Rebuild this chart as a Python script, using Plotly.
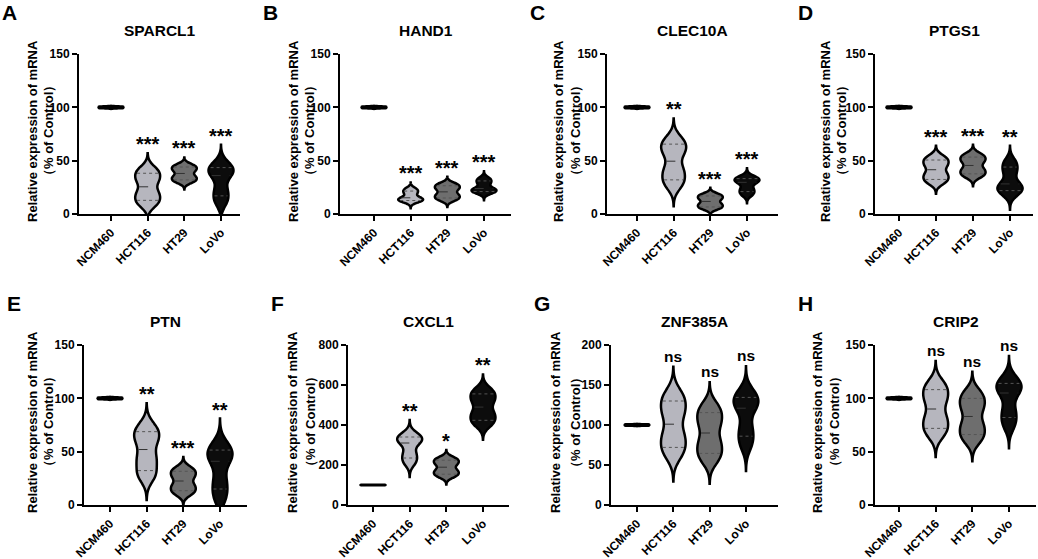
import numpy as np
import plotly.graph_objects as go

groups = ["NCM460", "HCT116", "HT29", "LoVo"]
genes = ["SPARCL1", "HAND1", "CLEC10A", "PTGS1", "PTN", "CXCL1", "ZNF385A", "CRIP2"]
letters = ["A", "B", "C", "D", "E", "F", "G", "H"]

# relative expression (% of control)
ncm460 = [99.3, 100, 100.7]
sparcl1 = [ncm460, [10.6, 19.4, 31.6, 40.4], [30.9, 35.1, 40.9, 45.1], [12, 22, 36, 41, 46]]
hand1 = [ncm460, [11.8, 13.5, 15.2, 19.8, 23.2], [14, 18, 23.5, 27.5], [20.1, 22, 23.9, 29.1, 32.9]]
clec10a = [ncm460, [29, 41, 58, 68], [5.7, 9.3, 14.2, 17.8], [18.7, 23.3, 29.7, 32, 34.3]]
ptgs1 = [ncm460, [30.8, 37.2, 45.8, 52.2], [36.3, 41.7, 49.3, 54.7], [19.8, 24, 28.2, 39.8, 48.2]]
ptn = [ncm460, [28.5, 43.5, 60.5, 71.5], [11.8, 18.2, 26.8, 33.2], [8, 22, 41, 48, 55]]
cxcl1 = [ncm460, [215, 255, 310, 330, 350], [148, 172, 206, 230], [412, 458, 521, 567]]
znf385a = [ncm460, [67, 87, 115, 135], [60, 78, 102, 120], [77, 95, 121, 130, 139]]
crip2 = [ncm460, [68.7, 81.3, 98.7, 111.3], [63.1, 74.9, 91.1, 102.9], [76, 88, 105, 111, 117]]
all_data = [sparcl1, hand1, clec10a, ptgs1, ptn, cxcl1, znf385a, crip2]

y_max = [150, 150, 150, 150, 150, 800, 200, 150]
y_step = [50, 50, 50, 50, 50, 200, 50, 50]
signif = [
    ["", "***", "***", "***"],
    ["", "***", "***", "***"],
    ["", "**", "***", "***"],
    ["", "***", "***", "**"],
    ["", "**", "***", "**"],
    ["", "**", "*", "**"],
    ["", "ns", "ns", "ns"],
    ["", "ns", "ns", "ns"],
]

fills = ["#000000", "#b6b6be", "#6e6e6e", "#0c0c0c"]
W, H = 1038, 559
FONT = "Liberation Sans, Arial, sans-serif"
VW = 0.68          # violin width in category units
BW_FRAC = 0.185    # kde bandwidth as fraction of the data range
TAIL = 3.0         # span beyond data, in bandwidths

# pixel layout: y-axis x, first category x, last category x, axis end x
panel_px = [
    (79, 111, 221, 240), (340, 374, 484, 511), (607, 637, 747, 778), (875, 899, 1010, 1033),
    (84, 110, 220, 247), (348, 373, 483, 509), (611, 637, 746, 778), (875, 899, 1009, 1036),
]
rows_px = [(54, 214), (345, 505)]
# y title lines: distance of each line's centre left of the y axis
ytitle_off = [(47, 31), (47, 31), (49, 32), (50, 34), (51, 35), (55, 37), (55, 35), (57, 40)]

fig = go.Figure()
annotations = []


def dens(vals, bw, t):
    t = np.atleast_1d(t)
    return np.exp(-0.5 * ((t[:, None] - np.asarray(vals)[None, :]) / bw) ** 2).sum(axis=1)


for p, data in enumerate(all_data):
    n = p + 1
    xa, ya = f"x{n}", f"y{n}"
    ax0, c0, c3, end = panel_px[p]
    top, bot = rows_px[p // 4]
    s = (c3 - c0) / 3
    xr = [-(c0 - ax0) / s, 3 + (end - c3) / s]

    for g, vals in enumerate(data):
        vals = np.asarray(vals, dtype=float)
        bw = BW_FRAC * (vals.max() - vals.min())
        lo, hi = vals.min() - TAIL * bw, vals.max() + TAIL * bw
        fig.add_trace(go.Violin(
            x=[g] * len(vals), y=vals, xaxis=xa, yaxis=ya, width=VW,
            bandwidth=bw, spanmode="manual", span=[lo, hi],
            fillcolor=fills[g], line=dict(color="black", width=2.5),
            points=False, box_visible=False, meanline_visible=False,
            showlegend=False, hoverinfo="skip",
        ))
        # median (dashed) and quartiles (dotted)
        if g > 0:
            grid = np.linspace(lo, hi, 600)
            dmax = dens(vals, bw, grid).max()
            q1, med, q3 = np.percentile(vals, [25, 50, 75], method="weibull")
            for q, dash, col in [(q1, "dot", "#555555"), (med, "dash", "#333333"), (q3, "dot", "#555555")]:
                hw = 0.88 * VW / 2 * dens(vals, bw, q)[0] / dmax
                fig.add_trace(go.Scatter(
                    x=[g - hw, g + hw], y=[q, q], xaxis=xa, yaxis=ya, mode="lines",
                    line=dict(color=col, width=1, dash=dash),
                    showlegend=False, hoverinfo="skip",
                ))
        label = signif[p][g]
        if label:
            annotations.append(dict(
                x=g, y=hi, xref=xa, yref=ya, text=f"<b>{label}</b>",
                showarrow=False, yanchor="bottom", xanchor="center",
                yshift=-4 if "*" in label else 0,
                font=dict(family=FONT, size=20 if "*" in label else 15.5, color="black"),
            ))

    axis_common = dict(
        showline=True, linecolor="black", linewidth=2, ticks="outside",
        ticklen=5, tickwidth=2, tickcolor="black", showgrid=False, zeroline=False,
        automargin=False,
    )
    fig.update_layout({
        f"xaxis{n}": dict(
            axis_common, domain=[ax0 / W, end / W], range=xr, anchor=ya,
            tickvals=[0, 1, 2, 3], ticktext=groups, tickangle=-45,
            tickfont=dict(family=FONT, size=12, color="black", weight="bold"),
        ),
        f"yaxis{n}": dict(
            axis_common, domain=[1 - bot / H, 1 - top / H], range=[0, y_max[p]], anchor=xa,
            tickvals=list(range(0, y_max[p] + 1, y_step[p])),
            tickfont=dict(family=FONT, size=12, color="black", weight="bold"),
        ),
    })

    # panel letter, gene title, y-axis title
    annotations.append(dict(
        x=(ax0 - 79) / W, y=1 - (top - 55) / H,
        xref="paper", yref="paper", text=f"<b>{letters[p]}</b>", showarrow=False,
        xanchor="left", yanchor="top", font=dict(family=FONT, size=21, color="black"),
    ))
    annotations.append(dict(
        x=(ax0 + end) / 2 / W, y=1 - (top - 24) / H, xref="paper", yref="paper",
        text=f"<b>{genes[p]}</b>", showarrow=False, xanchor="center", yanchor="middle",
        font=dict(family=FONT, size=15.5, color="black"),
    ))
    mid = (top + bot) / 2 - 3
    for txt, dx in zip(["Relative expression of mRNA", "（% of Control）"], ytitle_off[p]):
        annotations.append(dict(
            x=(ax0 - dx) / W, y=1 - mid / H, xref="paper", yref="paper",
            text=f"<b>{txt}</b>", showarrow=False, textangle=-90,
            xanchor="center", yanchor="middle",
            font=dict(family=FONT, size=13, color="black"),
        ))

fig.update_layout(
    width=W, height=H, margin=dict(l=0, r=0, t=0, b=0, autoexpand=False),
    paper_bgcolor="white", plot_bgcolor="white", violinmode="overlay",
    annotations=annotations, showlegend=False,
)

# drop the page's default body margin so the figure sits at the window corner
fig.write_html(
    "out.html",
    config={"displayModeBar": False},
    post_script="document.body.style.margin = '0px';",
)
